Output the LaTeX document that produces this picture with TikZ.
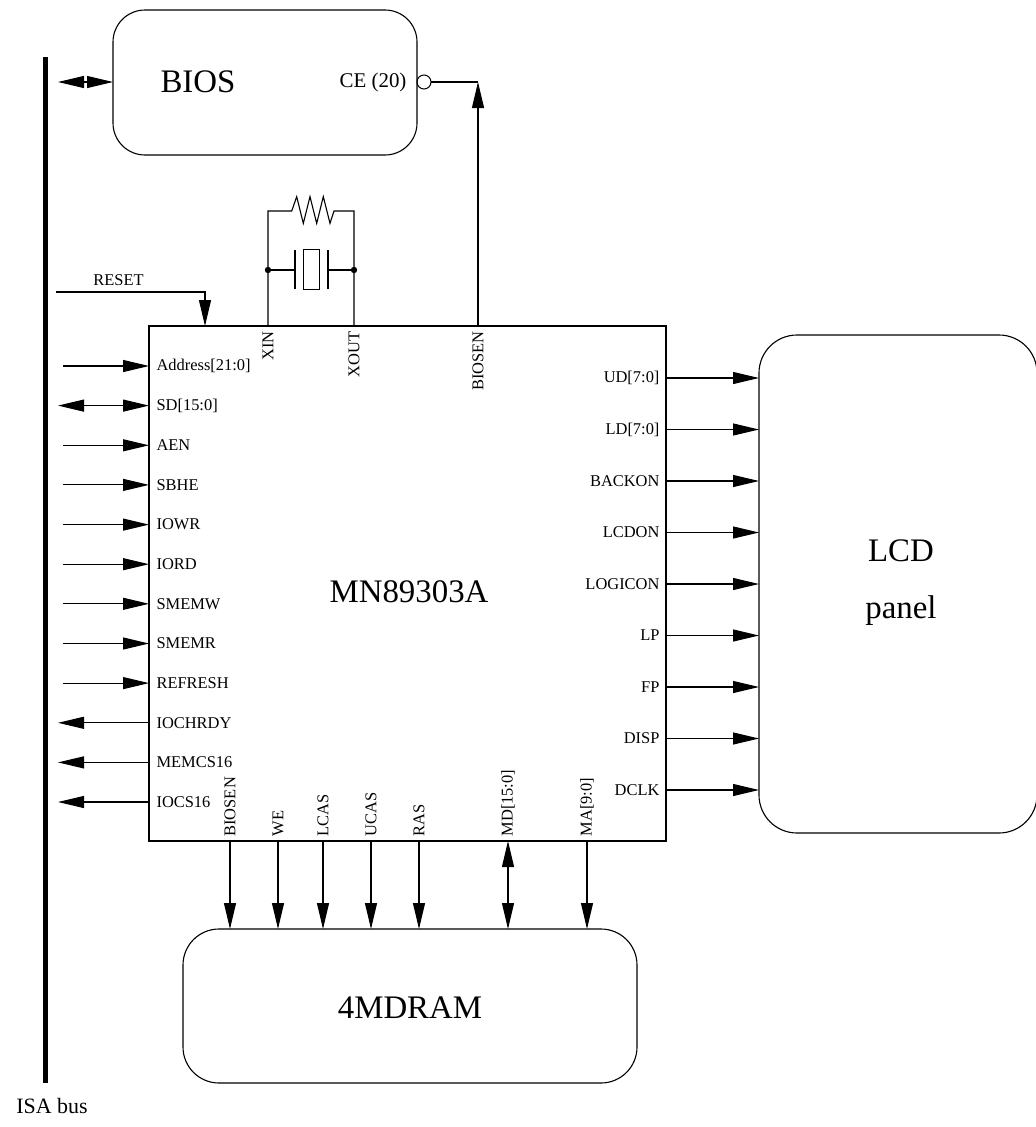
\documentclass[tikz,border=0pt]{standalone}
\usepackage{fontspec}
\setmainfont{Liberation Serif}
\usetikzlibrary{arrows.meta}
\newcommand{\pinfont}{\fontsize{16.5}{19}\selectfont}
\newcommand{\bigfont}{\fontsize{33}{57}\selectfont}
\begin{document}
\begin{tikzpicture}[x=1bp,y=-1bp,line width=1.1bp,
  >={Triangle[length=26bp,width=12bp]},
  box/.style={draw,rounded corners=32bp,inner sep=0pt,outer sep=0pt,anchor=north west},
  pinl/.style={font=\pinfont,inner sep=0pt,anchor=west},
  pinr/.style={font=\pinfont,inner sep=0pt,anchor=east},
  pinv/.style={font=\pinfont,inner sep=0pt,anchor=east,rotate=90},
  big/.style={font=\bigfont,inner sep=0pt,align=center}]
\useasboundingbox (0,0) rectangle (1036,1127);

% ISA bus
\coordinate (bustop) at (45,57);
\coordinate (busbot) at (45,1083);
\draw[line width=5bp] (bustop) -- (busbot);
\node[font=\fontsize{22}{26}\selectfont,inner sep=0pt] (isa) at (52,1106) {ISA bus};

% blocks
\node[box,minimum width=304bp,minimum height=145bp] (bios) at (113,10) {};
\node[big] (biost) at (198,82) {BIOS};
\node[draw,inner sep=0pt,outer sep=0pt,anchor=north west,minimum width=517bp,minimum height=515bp] (chip) at (149,326) {};
\node[big] (chipt) at (409,592) {MN89303A};
\node[box,rounded corners=38bp,minimum width=278bp,minimum height=498bp] (lcd) at (759,335) {};
\node[big] (lcdt) at (901,583) {LCD\\panel};
\node[box,rounded corners=36bp,minimum width=454bp,minimum height=154bp] (dram) at (183,929) {};
\node[big] (dramt) at (410,1008) {4MDRAM};

% BIOS connections
\coordinate (biosbus) at (58,82);
\draw[<->] (biosbus) -- (bios.west |- biosbus);
\node[font=\fontsize{21}{24}\selectfont,inner sep=0pt,anchor=east] (ce) at (407,82) {CE (20)};
\node[draw,circle,minimum size=14bp,inner sep=0pt,outer sep=0pt,line width=1bp] (bub) at (424,82) {};
\coordinate (cecorner) at (478,82);
\draw (bub.east) -- (cecorner);
\draw[->] (chip.north -| cecorner) -- (cecorner);
\node[pinv] (biosen) at (478,331) {BIOSEN};

% RESET
\coordinate (rst0) at (56,292);
\coordinate (rst1) at (205,292);
\draw[->] (rst0) -- (rst1) -- (chip.north -| rst1);
\node[font=\pinfont,inner sep=0pt,anchor=base] (rstl) at (118.5,285) {RESET};

% crystal / resistor
\coordinate (xin) at (268,326);
\coordinate (xout) at (354,326);
\draw (xin) -- (268,211) -- (291.7,211) -- (296.7,196.7) -- (303.3,223.3) -- (310,196.7)
  -- (316.7,223.3) -- (323.3,196.7) -- (330,223.3) -- (334,211) -- (354,211) -- (xout);
\fill (268,270) circle (3.2bp);
\fill (354,270) circle (3.2bp);
\draw (268,270) -- (295,270);
\draw (295,250) -- (295,289);
\draw[line width=0.8bp] (303,249) rectangle (319,289);
\draw (328,250) -- (328,289);
\draw (328,270) -- (354,270);
\node[pinv] (xinl) at (268,331) {XIN};
\node[pinv] (xoutl) at (354,331) {XOUT};

% left pins
\foreach \y/\t in {366/{Address[21:0]},405.6/{SD[15:0]},445.3/AEN,484.9/SBHE,524.6/IOWR,564.2/IORD,603.8/SMEMW,643.5/SMEMR,683.1/REFRESH,722.8/IOCHRDY,762.4/MEMCS16,802/IOCS16}
  \node[pinl] at (156,\y) {\t};
\foreach \y in {366,445.3,484.9,524.6,564.2,603.8,643.5,683.1}
  \draw[->] (63,\y) -- (chip.west |- 0,\y);
\draw[<->] (58,405.6) -- (chip.west |- 0,405.6);
\foreach \y in {722.8,762.4,802}
  \draw[->] (chip.west |- 0,\y) -- (58,\y);

% right pins
\foreach \y/\t in {378/{UD[7:0]},429.5/{LD[7:0]},481/BACKON,532.5/LCDON,584/LOGICON,635.5/LP,687/FP,738.5/DISP,790/DCLK}{
  \node[pinr] at (660,\y) {\t};
  \draw[->] (chip.east |- 0,\y) -- (lcd.west |- 0,\y);
}

% bottom pins
\foreach \x/\t in {230/BIOSEN,278/WE,323/LCAS,371/UCAS,419/RAS,508/{MD[15:0]},587/{MA[9:0]}}
  \node[pinv,anchor=west] at (\x,837) {\t};
\foreach \x in {230,278,323,371,419,587}
  \draw[->] (chip.south -| \x,0) -- (dram.north -| \x,0);
\draw[<->] (chip.south -| 508,0) -- (dram.north -| 508,0);
\end{tikzpicture}
\end{document}
